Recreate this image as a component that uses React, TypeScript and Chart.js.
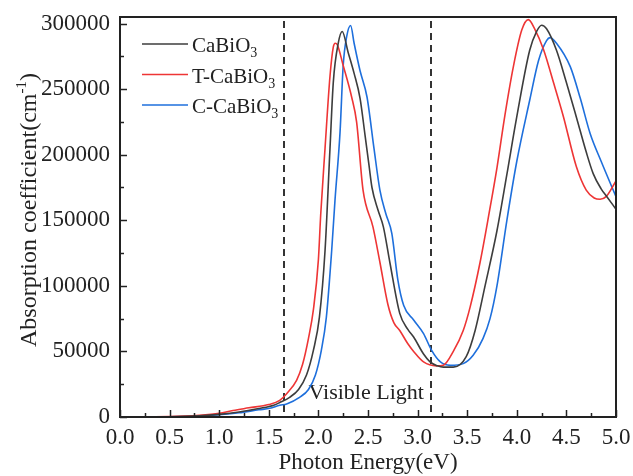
import React, { useEffect, useRef } from "react";
import { Chart, registerables } from "chart.js";

Chart.register(...registerables);

// ---------- data ----------
const energyCaBiO3 = [0, 0.5, 0.8, 1.0, 1.2, 1.4, 1.55, 1.61, 1.71, 1.8, 1.88, 1.95, 2.01, 2.067, 2.117, 2.15, 2.2, 2.24, 2.3, 2.36, 2.42, 2.47, 2.51, 2.54, 2.6, 2.655, 2.72, 2.82, 2.9, 2.96, 3.06, 3.125, 3.2, 3.26, 3.36, 3.49, 3.58, 3.68, 3.8, 3.9, 4.0, 4.13, 4.2, 4.25, 4.3, 4.4, 4.5, 4.6, 4.7, 4.77, 4.85, 4.91, 5.0];
const alphaCaBiO3 = [0, 200, 900, 2000, 3800, 6500, 9000, 11000, 15000, 21000, 32000, 51000, 76000, 127000, 205000, 255000, 285000, 294000, 278000, 262000, 243000, 215000, 192000, 175000, 158000, 145000, 118000, 79000, 67000, 61000, 48000, 42000, 39000, 38000, 38000, 46000, 66000, 100000, 142000, 185000, 229000, 279600, 294000, 298700, 296000, 279600, 255000, 228800, 202000, 185600, 174000, 167800, 158400];

const energyTCaBiO3 = [0, 0.5, 0.8, 1.0, 1.14, 1.3, 1.5, 1.61, 1.68, 1.78, 1.84, 1.9, 1.95, 2.0, 2.023, 2.067, 2.117, 2.15, 2.17, 2.19, 2.25, 2.335, 2.385, 2.45, 2.55, 2.62, 2.7, 2.76, 2.82, 2.9, 2.96, 3.06, 3.19, 3.26, 3.36, 3.46, 3.53, 3.63, 3.72, 3.8, 3.88, 3.965, 4.05, 4.116, 4.18, 4.27, 4.37, 4.47, 4.6, 4.7, 4.78, 4.84, 4.9, 5.0];
const alphaTCaBiO3 = [0, 300, 1300, 2800, 5000, 7000, 9500, 12700, 17800, 28000, 40000, 60000, 82000, 120000, 154000, 205000, 260000, 282000, 285000, 284000, 268000, 244000, 225000, 173000, 145000, 118000, 86000, 72000, 66000, 56000, 50000, 42000, 39000, 39500, 50000, 66000, 84000, 118000, 155000, 190000, 230000, 267000, 295000, 303000, 296000, 280000, 255000, 229000, 191000, 173000, 167000, 166000, 168000, 180000];

const energyCCaBiO3 = [0, 0.5, 0.8, 1.0, 1.2, 1.4, 1.51, 1.61, 1.68, 1.81, 1.9, 1.97, 2.03, 2.08, 2.134, 2.167, 2.218, 2.25, 2.285, 2.325, 2.36, 2.42, 2.49, 2.56, 2.62, 2.68, 2.74, 2.8, 2.86, 2.96, 3.06, 3.14, 3.23, 3.33, 3.46, 3.56, 3.66, 3.73, 3.8, 3.9, 4.0, 4.13, 4.22, 4.3, 4.335, 4.4, 4.54, 4.64, 4.74, 4.85, 5.0];
const alphaCCaBiO3 = [0, 150, 700, 1700, 3200, 5500, 6600, 9000, 10000, 15000, 21000, 32000, 51000, 76000, 127000, 165000, 217000, 268000, 290000, 298500, 285000, 264000, 244000, 205000, 173000, 155000, 140000, 105000, 85000, 74000, 63600, 51000, 42000, 39400, 40700, 47000, 60000, 75000, 100000, 150000, 195000, 241500, 272000, 287000, 289300, 285000, 267000, 243000, 216000, 195000, 168000];

const seriesLabels = ["CaBiO3", "T-CaBiO3", "C-CaBiO3"];
const seriesColors = ["#3d3d3d", "#ee3535", "#1e6fdc"];
const xTickValues = [0, 0.5, 1.0, 1.5, 2.0, 2.5, 3.0, 3.5, 4.0, 4.5, 5.0];
const yTickValues = [0, 50000, 100000, 150000, 200000, 250000, 300000];
const visibleBounds = [1.65, 3.14];
const visibleLabel = "Visible Light";
const xTitle = "Photon Energy(eV)";
const yTitleMain = "Absorption coefficient(cm";
const yTitleSup = "-1";
const yTitleEnd = ")";

const FONT = '"Liberation Serif", "Times New Roman", serif';
const INK = "#222222";

const annotPlugin = {
  id: "annot",
  beforeDatasetsDraw(chart: any) {
    const { ctx, chartArea: a, scales } = chart;
    const x = scales.x;
    const y = scales.y;
    ctx.save();
    ctx.strokeStyle = "#333333";
    ctx.lineWidth = 2;
    ctx.setLineDash([7, 5]);
    for (const v of visibleBounds) {
      const px = Math.round(x.getPixelForValue(v));
      ctx.beginPath();
      ctx.moveTo(px, a.top + 4);
      ctx.lineTo(px, a.bottom);
      ctx.stroke();
    }
    ctx.setLineDash([]);
    ctx.fillStyle = INK;
    ctx.font = `22px ${FONT}`;
    ctx.textAlign = "left";
    ctx.textBaseline = "middle";
    ctx.fillText(visibleLabel, x.getPixelForValue(1.9), y.getPixelForValue(18000));
    ctx.restore();
  },
  afterDatasetsDraw(chart: any) {
    const { ctx, chartArea: a, scales } = chart;
    const x = scales.x;
    const y = scales.y;
    ctx.save();
    // inward ticks
    ctx.strokeStyle = INK;
    ctx.lineWidth = 1.5;
    for (let i = 0; i <= 20; i++) {
      const v = i * 0.25;
      const px = Math.round(x.getPixelForValue(v)) + 0.5;
      const len = i % 2 === 0 ? 7 : 4;
      ctx.beginPath();
      ctx.moveTo(px, a.bottom);
      ctx.lineTo(px, a.bottom - len);
      ctx.stroke();
    }
    for (let i = 0; i <= 12; i++) {
      const v = i * 25000;
      const py = Math.round(y.getPixelForValue(v)) + 0.5;
      const len = i % 2 === 0 ? 7 : 4;
      ctx.beginPath();
      ctx.moveTo(a.left, py);
      ctx.lineTo(a.left + len, py);
      ctx.stroke();
    }
    // frame
    ctx.lineWidth = 2;
    ctx.strokeRect(a.left, a.top, a.right - a.left, a.bottom - a.top);

    // legend
    const datasets = chart.data.datasets;
    const lx0 = 142, lx1 = 188, ly0 = 44, dy = 30.5;
    datasets.forEach((ds: any, i: number) => {
      const ly = ly0 + i * dy;
      ctx.strokeStyle = ds.borderColor;
      ctx.lineWidth = 1.6;
      ctx.beginPath();
      ctx.moveTo(lx0, ly);
      ctx.lineTo(lx1, ly);
      ctx.stroke();
      const label: string = ds.label;
      const main = label.slice(0, -1);
      const sub = label.slice(-1);
      ctx.fillStyle = INK;
      ctx.font = `21px ${FONT}`;
      ctx.textAlign = "left";
      ctx.textBaseline = "alphabetic";
      const base = ly + 8;
      ctx.fillText(main, 192, base);
      const w = ctx.measureText(main).width;
      ctx.font = `14px ${FONT}`;
      ctx.fillText(sub, 192 + w, base + 5);
    });

    // x title
    ctx.fillStyle = INK;
    ctx.font = `23px ${FONT}`;
    ctx.textAlign = "center";
    ctx.textBaseline = "middle";
    ctx.fillText(xTitle, (a.left + a.right) / 2, 463);

    // y title (rotated)
    ctx.save();
    ctx.translate(28, 210);
    ctx.rotate(-Math.PI / 2);
    ctx.font = `24px ${FONT}`;
    const w1 = ctx.measureText(yTitleMain).width;
    ctx.font = `15px ${FONT}`;
    const w2 = ctx.measureText(yTitleSup).width;
    ctx.font = `24px ${FONT}`;
    const w3 = ctx.measureText(yTitleEnd).width;
    const total = w1 + w2 + w3;
    let cx = -total / 2;
    ctx.textAlign = "left";
    ctx.textBaseline = "alphabetic";
    const baseY = 8;
    ctx.fillText(yTitleMain, cx, baseY);
    cx += w1;
    ctx.font = `15px ${FONT}`;
    ctx.fillText(yTitleSup, cx, baseY - 10);
    cx += w2;
    ctx.font = `24px ${FONT}`;
    ctx.fillText(yTitleEnd, cx, baseY);
    ctx.restore();

    ctx.restore();
  },
};

function toPoints(xs: number[], ys: number[]) {
  return xs.map((v, i) => ({ x: v, y: ys[i] }));
}

export default function App() {
  const ref = useRef<HTMLCanvasElement | null>(null);
  useEffect(() => {
    if (!ref.current) return;
    const chart = new Chart(ref.current, {
      type: "line",
      data: {
        datasets: [
          { label: seriesLabels[0], data: toPoints(energyCaBiO3, alphaCaBiO3), borderColor: seriesColors[0] },
          { label: seriesLabels[1], data: toPoints(energyTCaBiO3, alphaTCaBiO3), borderColor: seriesColors[1] },
          { label: seriesLabels[2], data: toPoints(energyCCaBiO3, alphaCCaBiO3), borderColor: seriesColors[2] },
        ].map((d) => ({
          ...d,
          borderWidth: 1.6,
          pointRadius: 0,
          fill: false,
          cubicInterpolationMode: "monotone" as const,
        })),
      },
      options: {
        responsive: false,
        animation: false,
        devicePixelRatio: 1,
        layout: { padding: { left: 0, top: 17, right: 17, bottom: 0 } },
        plugins: { legend: { display: false }, tooltip: { enabled: false }, title: { display: false } },
        scales: {
          x: {
            type: "linear",
            min: 0,
            max: 5,
            afterBuildTicks: (s: any) => {
              s.ticks = xTickValues.map((v) => ({ value: v }));
            },
            afterFit: (s: any) => {
              s.height = 59;
              s.paddingLeft = 0;
              s.paddingRight = 0;
            },
            grid: { display: false, drawTicks: false },
            border: { display: false },
            ticks: {
              padding: 7,
              color: INK,
              font: { family: FONT, size: 23 },
              maxRotation: 0,
              autoSkip: false,
              callback: (v: any) => Number(v).toFixed(1),
            },
          },
          y: {
            type: "linear",
            min: 0,
            max: 305000,
            afterBuildTicks: (s: any) => {
              s.ticks = yTickValues.map((v) => ({ value: v }));
            },
            afterFit: (s: any) => {
              s.width = 120;
              s.paddingTop = 0;
              s.paddingBottom = 0;
            },
            grid: { display: false, drawTicks: false },
            border: { display: false },
            ticks: {
              padding: 10,
              color: INK,
              font: { family: FONT, size: 23 },
              autoSkip: false,
              callback: (v: any) => String(v),
            },
          },
        },
      },
      plugins: [annotPlugin],
    });
    return () => chart.destroy();
  }, []);
  return (
    <div style={{ position: "fixed", left: 0, top: 0, width: 633, height: 476, background: "#fff" }}>
      <canvas ref={ref} width={633} height={476} />
    </div>
  );
}
